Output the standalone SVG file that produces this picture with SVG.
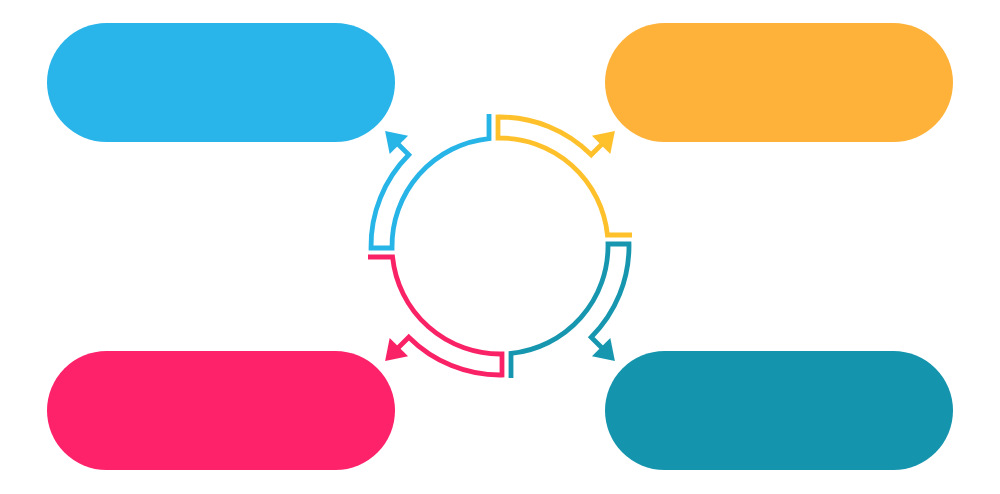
<svg xmlns="http://www.w3.org/2000/svg" xmlns:xlink="http://www.w3.org/1999/xlink" width="1000" height="494" viewBox="0 0 1000 494">
  <style>
    .ring { fill: none; stroke: currentColor; stroke-width: 4.8; stroke-linejoin: miter; stroke-linecap: butt; }
    .head { fill: currentColor; stroke: none; }
  </style>
  <defs>
    <g id="seg">
      <path class="ring" d="M 601.8 144.2 L 591.22 154.78 A 129 129 0 0 0 498 117.02 L 498 138.02 A 108 108 0 0 1 607.44 235 L 632 235"/>
      <polygon class="head" points="614.9,131.1 591.93,135.69 610.31,154.07"/>
    </g>
  </defs>
  <rect width="1000" height="494" fill="#ffffff"/>
  <g id="node-blue">
    <rect x="47" y="23" width="348" height="119" rx="59.5" fill="#29B5E9"/>
  </g>
  <g id="node-orange">
    <rect x="605" y="23" width="348" height="119" rx="59.5" fill="#FEB23A"/>
  </g>
  <g id="node-pink">
    <rect x="47" y="351" width="348" height="119" rx="59.5" fill="#FE226B"/>
  </g>
  <g id="node-teal">
    <rect x="605" y="351" width="348" height="119" rx="59.5" fill="#1594AE"/>
  </g>
  <g id="connectors">
    <use xlink:href="#seg" color="#FEC12B"/>
    <use xlink:href="#seg" color="#1797AF" transform="rotate(90 500 246)"/>
    <use xlink:href="#seg" color="#FA2266" transform="rotate(180 500 246)"/>
    <use xlink:href="#seg" color="#27B4E7" transform="rotate(270 500 246)"/>
  </g>
</svg>
